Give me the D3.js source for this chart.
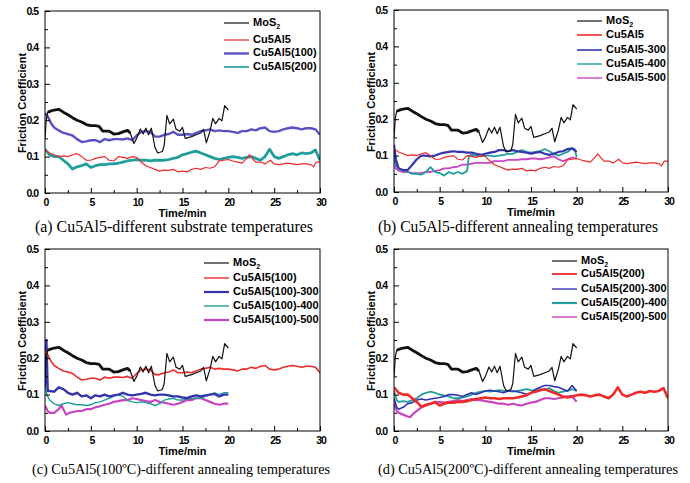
<!DOCTYPE html>
<html>
<head>
<meta charset="utf-8">
<script src="https://cdn.jsdelivr.net/npm/d3@7"></script>
<style>
  html, body { margin: 0; padding: 0; background: #fff; }
  svg { display: block; }
  .tick-label { font-family: "Liberation Sans", Arial, sans-serif; font-weight: bold; font-size: 10.5px; letter-spacing: -1px; }
  .axis-title { font-family: "Liberation Sans", Arial, sans-serif; font-weight: bold; font-size: 11px; }
  .legend-text { font-family: "Liberation Sans", Arial, sans-serif; font-weight: bold; font-size: 11px; }
  .caption { font-family: "Liberation Serif", "Times New Roman", serif; }
</style>
</head>
<body>
<svg id="chart" width="690" height="483"></svg>
<script>
// Friction coefficient vs. time, [minute, coefficient] pairs
const mos2 = [[0,0.15],[0.15,0.205],[0.3,0.222],[0.6,0.225],[1,0.228],[1.5,0.23],[2,0.222],[2.5,0.215],[3,0.207],[3.5,0.2],[4,0.195],[4.5,0.188],[5,0.185],[5.5,0.185],[5.9,0.183],[6.3,0.17],[7,0.17],[7.5,0.162],[8,0.163],[8.5,0.168],[9,0.172],[9.3,0.165],[9.7,0.136],[10,0.15],[10.4,0.176],[10.7,0.162],[11,0.178],[11.3,0.16],[11.6,0.178],[12,0.125],[12.3,0.11],[12.8,0.114],[13,0.13],[13.3,0.213],[13.6,0.19],[14,0.203],[14.3,0.175],[14.7,0.17],[15,0.18],[15.3,0.15],[16,0.155],[16.5,0.16],[17,0.165],[17.3,0.175],[17.6,0.138],[18,0.17],[18.3,0.205],[18.6,0.19],[19,0.205],[19.3,0.198],[19.6,0.24],[20,0.228]];

const cu5al5 = [[0,0.118],[0.5,0.11],[1,0.105],[1.5,0.1],[2,0.102],[2.5,0.1],[3,0.105],[3.5,0.108],[4,0.1],[4.5,0.09],[5,0.09],[5.5,0.095],[6,0.098],[6.5,0.1],[7,0.09],[7.5,0.088],[8,0.1],[8.5,0.098],[9,0.095],[9.5,0.1],[10,0.098],[10.5,0.085],[11,0.075],[11.5,0.07],[12,0.065],[12.5,0.06],[13,0.063],[13.5,0.062],[14,0.065],[14.5,0.058],[15,0.06],[15.5,0.058],[16,0.065],[16.5,0.068],[17,0.065],[17.5,0.07],[18,0.068],[18.5,0.072],[19,0.088],[19.5,0.09],[20,0.092],[20.5,0.088],[21,0.085],[21.5,0.082],[22,0.095],[22.3,0.105],[22.8,0.09],[23,0.085],[23.5,0.085],[24,0.08],[24.6,0.09],[25,0.08],[25.5,0.078],[26,0.08],[26.5,0.082],[27,0.08],[27.5,0.078],[28,0.08],[28.5,0.08],[29,0.078],[29.3,0.072],[29.6,0.085],[30,0.085]];

const cu5al5_100 = [[0,0.22],[0.3,0.21],[0.7,0.19],[1,0.18],[1.5,0.172],[2,0.165],[2.5,0.162],[3,0.158],[3.5,0.148],[4,0.14],[4.5,0.142],[5,0.145],[5.5,0.145],[6,0.14],[6.5,0.148],[7,0.145],[7.5,0.148],[8,0.148],[8.5,0.147],[9,0.15],[9.5,0.145],[10,0.158],[10.5,0.168],[11,0.17],[11.5,0.168],[12,0.155],[12.5,0.155],[13,0.16],[13.5,0.162],[14,0.168],[14.5,0.16],[15,0.16],[15.5,0.162],[16,0.16],[16.5,0.165],[17,0.17],[17.5,0.172],[18,0.175],[18.5,0.17],[19,0.172],[19.5,0.17],[20,0.17],[20.5,0.168],[21,0.165],[21.5,0.17],[22,0.17],[22.5,0.175],[23,0.172],[23.5,0.178],[24,0.18],[24.5,0.17],[25,0.168],[25.5,0.17],[26,0.175],[26.5,0.178],[27,0.18],[27.5,0.178],[28,0.175],[28.5,0.178],[29,0.178],[29.5,0.175],[30,0.16]];

const cu5al5_200 = [[0,0.12],[0.5,0.105],[1,0.1],[1.5,0.1],[2,0.09],[2.5,0.08],[3,0.066],[3.5,0.072],[4,0.075],[4.5,0.08],[5,0.07],[5.5,0.075],[6,0.078],[6.5,0.078],[7,0.08],[7.5,0.08],[8,0.082],[8.5,0.085],[9,0.088],[9.5,0.09],[10,0.092],[10.5,0.09],[11,0.09],[11.5,0.088],[12,0.09],[12.5,0.09],[13,0.09],[13.5,0.092],[14,0.095],[14.5,0.098],[15,0.105],[15.5,0.108],[16,0.112],[16.5,0.115],[17,0.11],[17.5,0.105],[18,0.1],[18.5,0.095],[19,0.092],[19.5,0.095],[20,0.098],[20.5,0.1],[21,0.098],[21.5,0.095],[22,0.098],[22.5,0.1],[23,0.095],[23.5,0.09],[24,0.1],[24.5,0.12],[25,0.1],[25.5,0.095],[26,0.1],[26.5,0.105],[27,0.108],[27.5,0.105],[28,0.11],[28.5,0.108],[29,0.11],[29.5,0.118],[30,0.09]];

const cu5al5_300 = [[0,0.13],[0.2,0.09],[0.5,0.065],[1,0.06],[1.5,0.06],[2,0.075],[2.5,0.09],[3,0.1],[3.5,0.1],[4,0.098],[4.5,0.1],[5,0.105],[5.5,0.108],[6,0.11],[6.5,0.112],[7,0.11],[7.5,0.11],[8,0.108],[8.5,0.108],[9,0.105],[9.5,0.102],[10,0.105],[10.5,0.108],[11,0.11],[11.5,0.115],[12,0.115],[12.5,0.112],[13,0.115],[13.5,0.112],[14,0.11],[14.5,0.108],[15,0.105],[15.5,0.108],[16,0.11],[16.5,0.105],[17,0.102],[17.5,0.105],[18,0.11],[18.5,0.112],[19,0.118],[19.5,0.12],[20,0.11]];

const cu5al5_400 = [[0,0.1],[0.2,0.075],[0.5,0.065],[1,0.06],[1.5,0.055],[2,0.05],[2.5,0.05],[3,0.048],[3.5,0.055],[4,0.068],[4.5,0.055],[5,0.052],[5.5,0.045],[6,0.055],[6.5,0.05],[7,0.055],[7.5,0.05],[8,0.058],[8.2,0.1],[8.5,0.102],[9,0.1],[9.5,0.098],[10,0.1],[10.5,0.1],[11,0.098],[11.5,0.1],[12,0.102],[12.5,0.105],[13,0.105],[13.5,0.11],[14,0.115],[14.5,0.11],[15,0.108],[15.5,0.11],[16,0.112],[16.5,0.118],[17,0.112],[17.5,0.105],[18,0.1],[18.5,0.105],[19,0.11],[19.5,0.12],[19.8,0.118],[20,0.095]];

const cu5al5_500 = [[0,0.1],[0.2,0.065],[0.5,0.058],[1,0.055],[1.5,0.055],[2,0.052],[2.5,0.052],[3,0.052],[3.5,0.055],[4,0.055],[4.5,0.058],[5,0.06],[5.5,0.065],[6,0.065],[6.5,0.068],[7,0.07],[7.5,0.075],[8,0.075],[8.5,0.078],[9,0.08],[9.5,0.08],[10,0.08],[10.5,0.08],[11,0.085],[11.5,0.085],[12,0.085],[12.5,0.088],[13,0.088],[13.5,0.088],[14,0.09],[14.5,0.09],[15,0.092],[15.5,0.092],[16,0.09],[16.5,0.092],[17,0.095],[17.5,0.098],[18,0.09],[18.5,0.085],[19,0.09],[19.5,0.095],[20,0.092]];

const cu5al5_100_300 = [[0,0.12],[0.15,0.25],[0.3,0.11],[0.5,0.11],[1,0.108],[1.5,0.12],[2,0.115],[2.5,0.105],[3,0.1],[3.5,0.105],[4,0.095],[4.5,0.098],[5,0.09],[5.5,0.098],[6,0.095],[6.5,0.1],[7,0.095],[7.5,0.098],[8,0.1],[8.5,0.105],[9,0.1],[9.5,0.098],[10,0.1],[10.5,0.102],[11,0.105],[11.5,0.1],[12,0.098],[12.5,0.1],[13,0.1],[13.5,0.098],[14,0.095],[14.5,0.095],[15,0.092],[15.5,0.09],[16,0.095],[16.5,0.098],[17,0.095],[17.5,0.098],[18,0.1],[18.5,0.102],[19,0.095],[19.5,0.1],[20,0.1]];

const cu5al5_100_400 = [[0,0.13],[0.2,0.1],[0.5,0.085],[1,0.075],[1.5,0.07],[2,0.075],[2.5,0.078],[3,0.075],[3.5,0.072],[4,0.072],[4.5,0.07],[5,0.072],[5.5,0.078],[6,0.08],[6.5,0.085],[7,0.09],[7.5,0.095],[8,0.1],[8.5,0.095],[9,0.085],[9.5,0.08],[10,0.078],[10.5,0.08],[11,0.078],[11.5,0.075],[12,0.07],[12.5,0.075],[13,0.085],[13.5,0.088],[14,0.09],[14.5,0.085],[15,0.085],[15.5,0.088],[16,0.09],[16.5,0.09],[17,0.09],[17.5,0.095],[18,0.1],[18.5,0.105],[19,0.1],[19.5,0.105],[20,0.105]];

const cu5al5_100_500 = [[0,0.07],[0.3,0.055],[0.5,0.05],[1,0.05],[1.5,0.06],[1.8,0.07],[2,0.06],[2.3,0.045],[2.7,0.05],[3,0.052],[3.5,0.055],[4,0.055],[4.5,0.06],[5,0.06],[5.5,0.065],[6,0.068],[6.5,0.072],[7,0.075],[7.5,0.08],[8,0.082],[8.5,0.085],[9,0.085],[9.5,0.09],[10,0.088],[10.5,0.085],[11,0.082],[11.5,0.08],[12,0.085],[12.5,0.08],[13,0.078],[13.5,0.075],[14,0.072],[14.5,0.075],[15,0.08],[15.5,0.085],[16,0.085],[16.5,0.09],[17,0.09],[17.5,0.085],[18,0.08],[18.5,0.075],[19,0.072],[19.5,0.075],[20,0.075]];

const cu5al5_200_300 = [[0,0.09],[0.3,0.065],[0.5,0.06],[1,0.065],[1.5,0.075],[2,0.078],[2.5,0.085],[3,0.088],[3.5,0.085],[4,0.088],[4.5,0.09],[5,0.092],[5.5,0.095],[6,0.1],[6.5,0.1],[7,0.098],[7.5,0.095],[8,0.1],[8.5,0.105],[9,0.1],[9.5,0.105],[10,0.11],[10.5,0.112],[11,0.11],[11.5,0.108],[12,0.105],[12.5,0.11],[13,0.11],[13.5,0.108],[14,0.105],[14.5,0.1],[15,0.105],[15.5,0.115],[16,0.12],[16.5,0.125],[17,0.125],[17.5,0.122],[18,0.12],[18.5,0.115],[19,0.11],[19.5,0.125],[20,0.11]];

const cu5al5_200_400 = [[0,0.11],[0.3,0.085],[0.5,0.08],[1,0.082],[1.5,0.08],[2,0.085],[2.5,0.09],[3,0.1],[3.5,0.105],[4,0.108],[4.5,0.105],[5,0.1],[5.5,0.098],[6,0.095],[6.5,0.09],[7,0.09],[7.5,0.092],[8,0.095],[8.5,0.1],[9,0.105],[9.5,0.108],[10,0.11],[10.5,0.108],[11,0.11],[11.5,0.112],[12,0.11],[12.5,0.11],[13,0.108],[13.5,0.11],[14,0.112],[14.5,0.115],[15,0.112],[15.5,0.11],[16,0.115],[16.5,0.112],[17,0.118],[17.5,0.11],[18,0.105],[18.5,0.108],[19,0.11],[19.5,0.115],[20,0.11]];

const cu5al5_200_500 = [[0,0.075],[0.3,0.055],[0.5,0.05],[1,0.045],[1.5,0.04],[1.8,0.038],[2,0.045],[2.5,0.055],[3,0.065],[3.5,0.07],[4,0.075],[4.5,0.078],[5,0.08],[5.5,0.078],[6,0.08],[6.5,0.082],[7,0.085],[7.5,0.082],[8,0.085],[8.5,0.088],[9,0.085],[9.5,0.085],[10,0.082],[10.5,0.08],[11,0.078],[11.5,0.075],[12,0.075],[12.5,0.072],[13,0.075],[13.5,0.072],[14,0.07],[14.5,0.075],[15,0.078],[15.5,0.08],[16,0.085],[16.5,0.09],[17,0.09],[17.5,0.088],[18,0.09],[18.5,0.092],[19,0.095],[19.5,0.095],[20,0.08]];

const xTicks = [0, 5, 10, 15, 20, 25, 30];
const yTicks = [0.0, 0.1, 0.2, 0.3, 0.4, 0.5];

const colors = { black: "#111111", red: "#ee2a2a", violet: "#5a52c4", teal: "#1f9e9c", blue: "#3434b0", magenta: "#c845c0" };

// MoS2 trace is denser (heavier) during the first minutes
const mosHeavyUntil = 9.4;

const panels = [
  { left: 45, top: 11, right: 320, bottom: 193,
    caption: "(a) Cu5Al5-different substrate temperatures", capX: 35, capY: 231.5, capW: 278, capSize: 15.8,
    legX: 224, legY: [23, 40, 53.5, 67],
    series: [
      { name: "MoS", sub: "2", data: mos2, color: colors.black, w: 1.2, heavy: 2.8, lw: 1.2 },
      { name: "Cu5Al5", data: cu5al5, color: colors.red, w: 1.2, lw: 1.2 },
      { name: "Cu5Al5(100)", data: cu5al5_100, color: colors.violet, w: 2.4, lw: 2.4 },
      { name: "Cu5Al5(200)", data: cu5al5_200, color: colors.teal, w: 2.8, lw: 1.6 }
    ] },
  { left: 394, top: 10, right: 668, bottom: 192,
    caption: "(b) Cu5Al5-different annealing temperatures", capX: 378, capY: 231.5, capW: 280, capSize: 15.8,
    legX: 577, legY: [21, 35, 50, 64, 78],
    series: [
      { name: "MoS", sub: "2", data: mos2, color: colors.black, w: 1.2, heavy: 2.8, lw: 1.2 },
      { name: "Cu5Al5", data: cu5al5, color: colors.red, w: 1.2, lw: 1.6 },
      { name: "Cu5Al5-300", data: cu5al5_300, color: colors.blue, w: 2.2, lw: 1.6 },
      { name: "Cu5Al5-400", data: cu5al5_400, color: colors.teal, w: 1.8, lw: 1.4 },
      { name: "Cu5Al5-500", data: cu5al5_500, color: colors.magenta, w: 1.8, lw: 1.4 }
    ] },
  { left: 45, top: 249, right: 320, bottom: 431,
    caption: "(c) Cu5Al5(100ºC)-different annealing temperatures", capX: 32, capY: 474, capW: 298, capSize: 14.6,
    legX: 204, legY: [263, 278, 292, 306, 320],
    series: [
      { name: "MoS", sub: "2", data: mos2, color: colors.black, w: 1.2, heavy: 2.8, lw: 1.2 },
      { name: "Cu5Al5(100)", data: cu5al5_100, color: colors.red, w: 1.6, lw: 1.4 },
      { name: "Cu5Al5(100)-300", data: cu5al5_100_300, color: colors.blue, w: 2.4, lw: 2.2 },
      { name: "Cu5Al5(100)-400", data: cu5al5_100_400, color: colors.teal, w: 1.4, lw: 1.4 },
      { name: "Cu5Al5(100)-500", data: cu5al5_100_500, color: colors.magenta, w: 2.2, lw: 2.2 }
    ] },
  { left: 394, top: 249, right: 668, bottom: 431,
    caption: "(d) Cu5Al5(200ºC)-different annealing temperatures", capX: 378, capY: 474, capW: 300, capSize: 14.6,
    legX: 552, legY: [261, 274, 289, 303, 317],
    series: [
      { name: "MoS", sub: "2", data: mos2, color: colors.black, w: 1.2, heavy: 2.8, lw: 1.2 },
      { name: "Cu5Al5(200)", data: cu5al5_200, color: colors.red, w: 2.6, lw: 1.8 },
      { name: "Cu5Al5(200)-300", data: cu5al5_200_300, color: colors.blue, w: 1.6, lw: 1.4 },
      { name: "Cu5Al5(200)-400", data: cu5al5_200_400, color: colors.teal, w: 1.8, lw: 2.2 },
      { name: "Cu5Al5(200)-500", data: cu5al5_200_500, color: colors.magenta, w: 2.2, lw: 1.4 }
    ] }
];

const svg = d3.select("#chart");

panels.forEach((p, pi) => {
  const x = d3.scaleLinear().domain([0, 30]).range([p.left, p.right]);
  const y = d3.scaleLinear().domain([0, 0.5]).range([p.bottom, p.top]);
  const g = svg.append("g");

  // data lines, clipped to the plot frame
  const clipId = "clip-" + pi;
  svg.append("clipPath").attr("id", clipId).append("rect")
    .attr("x", p.left).attr("y", p.top).attr("width", p.right - p.left).attr("height", p.bottom - p.top);
  const line = d3.line().x(d => x(d[0])).y(d => y(d[1]));
  const lines = g.append("g").attr("clip-path", "url(#" + clipId + ")");
  p.series.slice().reverse().forEach(s => {
    lines.append("path").attr("d", line(s.data)).attr("fill", "none")
      .attr("stroke", s.color).attr("stroke-width", s.w).attr("stroke-linejoin", "round");
    if (s.heavy) {
      lines.append("path").attr("d", line(s.data.filter(d => d[0] >= 0.3 && d[0] <= mosHeavyUntil)))
        .attr("fill", "none").attr("stroke", s.color).attr("stroke-width", s.heavy).attr("stroke-linejoin", "round");
    }
  });

  // frame
  g.append("rect").attr("x", p.left).attr("y", p.top)
    .attr("width", p.right - p.left).attr("height", p.bottom - p.top)
    .attr("fill", "none").attr("stroke", "#000").attr("stroke-width", 1);

  // bottom axis with inward major and minor ticks
  const xAxis = d3.axisBottom(x).tickValues(xTicks).tickSize(-5).tickFormat(d3.format("d"));
  const gx = g.append("g").attr("transform", `translate(0,${p.bottom})`).call(xAxis);
  gx.select(".domain").remove();
  gx.selectAll("text").attr("class", "tick-label").attr("fill", "#000").attr("dy", null).attr("y", 13)
    .attr("dx", "0.5");
  const xMinor = d3.axisBottom(x).tickValues(d3.range(2.5, 30, 5)).tickSize(-3).tickFormat("");
  const gxm = g.append("g").attr("transform", `translate(0,${p.bottom})`).call(xMinor);
  gxm.select(".domain").remove();

  // left axis
  const yAxis = d3.axisLeft(y).tickValues(yTicks).tickSize(-5).tickPadding(7).tickFormat(d3.format(".1f"));
  const gy = g.append("g").attr("transform", `translate(${p.left},0)`).call(yAxis);
  gy.select(".domain").remove();
  gy.selectAll("text").attr("class", "tick-label").attr("fill", "#000");
  const yMinor = d3.axisLeft(y).tickValues(d3.range(0.05, 0.5, 0.1)).tickSize(-3).tickFormat("");
  const gym = g.append("g").attr("transform", `translate(${p.left},0)`).call(yMinor);
  gym.select(".domain").remove();

  // axis titles
  g.append("text").attr("class", "axis-title")
    .attr("x", (p.left + p.right) / 2).attr("y", p.bottom + 23.5)
    .attr("text-anchor", "middle").text("Time/min");
  g.append("text").attr("class", "axis-title")
    .attr("transform", `translate(${p.left - 19},${(p.top + p.bottom) / 2 + 1}) rotate(-90)`)
    .attr("text-anchor", "middle").text("Friction Coefficient");

  // legend
  p.series.forEach((s, i) => {
    const ly = p.legY[i];
    g.append("line").attr("x1", p.legX).attr("x2", p.legX + 25).attr("y1", ly).attr("y2", ly)
      .attr("stroke", s.color).attr("stroke-width", s.lw);
    const t = g.append("text").attr("class", "legend-text").attr("x", p.legX + 29).attr("y", ly)
      .attr("dominant-baseline", "middle").text(s.name);
    if (s.sub) t.append("tspan").attr("font-size", "7px").attr("dy", "4").text(s.sub);
  });

  // caption
  svg.append("text").attr("class", "caption").attr("x", p.capX).attr("y", p.capY)
    .attr("font-size", p.capSize + "px")
    .attr("textLength", p.capW).attr("lengthAdjust", "spacingAndGlyphs").text(p.caption);
});
</script>
</body>
</html>
